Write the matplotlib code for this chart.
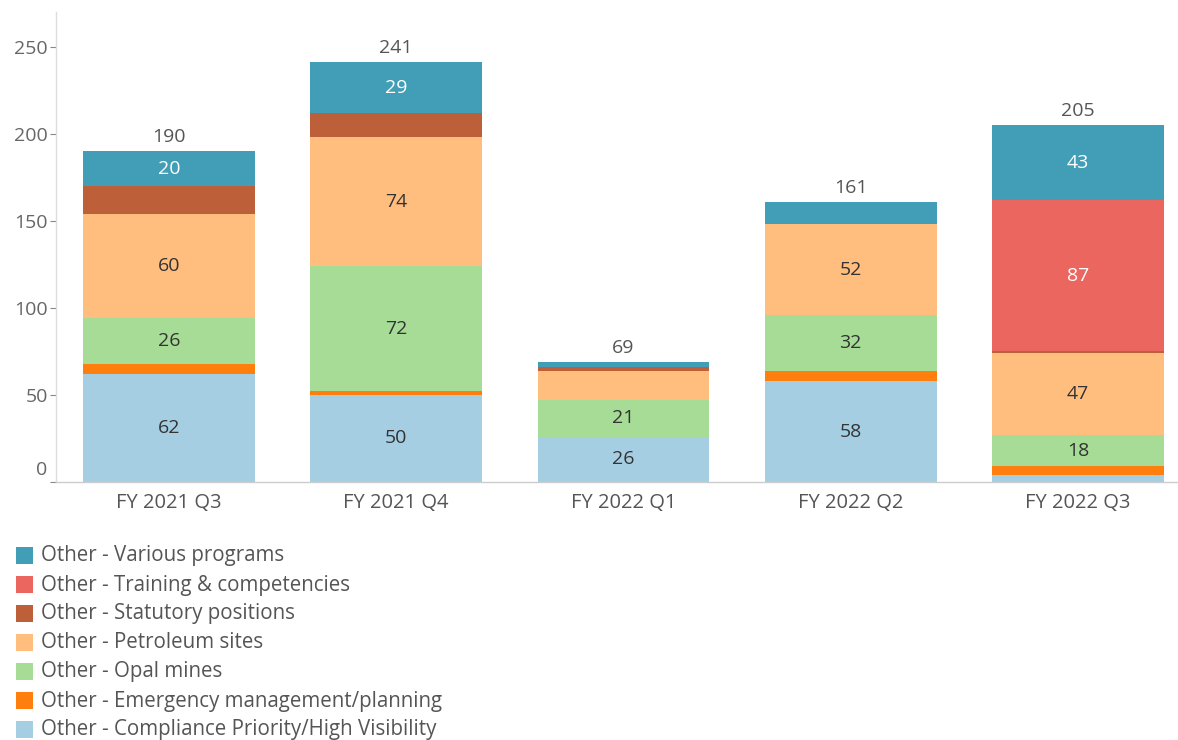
import matplotlib
matplotlib.use("Agg")
import matplotlib.pyplot as plt
from matplotlib.patches import Rectangle

plt.rcParams['font.family'] = ['Open Sans', 'DejaVu Sans']

quarters = ["FY 2021 Q3", "FY 2021 Q4", "FY 2022 Q1", "FY 2022 Q2", "FY 2022 Q3"]

compliance = [62, 50, 26, 58, 4]
emergency = [6, 2, 0, 6, 5]
opal = [26, 72, 21, 32, 18]
petroleum = [60, 74, 17, 52, 47]
statutory = [16, 14, 2, 0, 1]
training = [0, 0, 0, 0, 87]
various = [20, 29, 3, 13, 43]

series_names = [
    "Other - Compliance Priority/High Visibility",
    "Other - Emergency management/planning",
    "Other - Opal mines",
    "Other - Petroleum sites",
    "Other - Statutory positions",
    "Other - Training & competencies",
    "Other - Various programs",
]
series_values = [compliance, emergency, opal, petroleum, statutory, training, various]
series_colors = ["#A6CEE3", "#FF7F0E", "#A6DC96", "#FFBD7E", "#BD6039", "#EB665E", "#429EB7"]
label_colors = ["#333333", "#333333", "#333333", "#333333", "#333333", "#FFFFFF", "#FFFFFF"]
min_label = 18

W, H = 1178, 740
fig = plt.figure(figsize=(W / 100, H / 100), dpi=100)
ax = fig.add_axes([56 / W, 1 - 482 / H, (W - 56) / W, (482 - 12) / H])

x = list(range(len(quarters)))
bottoms = [0] * len(quarters)
for vals, col, lcol in zip(series_values, series_colors, label_colors):
    ax.bar(x, vals, bottom=bottoms, width=0.755, color=col, linewidth=0)
    for i, v in enumerate(vals):
        if v >= min_label:
            ax.text(i, bottoms[i] + v / 2, str(v), ha='center', va='center',
                    fontsize=14, color=lcol)
    bottoms = [b + v for b, v in zip(bottoms, vals)]

for i, t in enumerate(bottoms):
    ax.text(i, t + 3, str(t), ha='center', va='bottom', fontsize=14, color='#555555')

ax.set_xlim(-0.497, 4.44)
ax.set_ylim(0, 270)
ax.set_yticks([0, 50, 100, 150, 200, 250])
ax.set_yticklabels(["", "50", "100", "150", "200", "250"])
ax.tick_params(axis='y', length=4, width=0.8, color='#888888', labelcolor='#666666',
               labelsize=14, pad=2)
ax.text(-0.535, 7, "0", transform=ax.transData, ha='right', va='center',
        fontsize=14, color='#666666')
ax.set_xticks(x)
ax.set_xticklabels(quarters)
ax.tick_params(axis='x', length=0, labelcolor='#555555', labelsize=14.5, pad=8)

for s in ['top', 'right']:
    ax.spines[s].set_visible(False)
ax.spines['left'].set_color('#DDDDDD')
ax.spines['left'].set_linewidth(1)
ax.spines['bottom'].set_color('#CCCCCC')
ax.spines['bottom'].set_linestyle((0, (2, 1)))
ax.spines['bottom'].set_linewidth(1)

# legend, drawn top to bottom in reverse stacking order
legend_items = list(zip(series_names, series_colors))[::-1]
for k, (name, col) in enumerate(legend_items):
    yc = 556 + k * 29
    fig.patches.append(Rectangle((16 / W, 1 - (yc + 8) / H), 17 / W, 17 / H,
                                 transform=fig.transFigure, color=col, linewidth=0))
    fig.text(41 / W, 1 - yc / H, name, ha='left', va='center', fontsize=14.8, color='#555555')

fig.savefig("out.png", dpi=100)
